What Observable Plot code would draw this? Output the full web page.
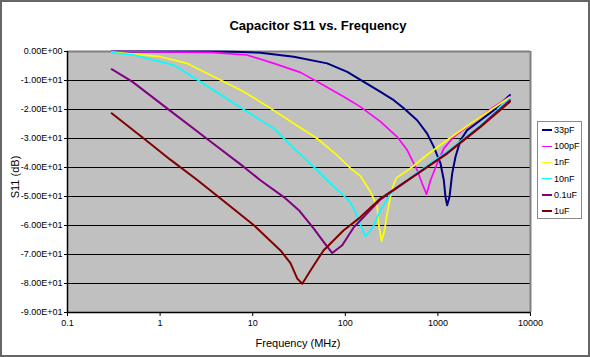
<!DOCTYPE html>
<html>
<head>
<meta charset="utf-8">
<script src="https://cdn.jsdelivr.net/npm/d3@7"></script>
<script src="https://cdn.jsdelivr.net/npm/@observablehq/plot@0.6"></script>
<style>
  body { margin: 0; background: #fff; }
  #chart { position: relative; width: 590px; height: 357px; overflow: hidden; font-family: "Liberation Sans", Arial, sans-serif; background: #fff; }
  #chart svg { position: absolute; left: 0; top: 0; }
  .outer { position: absolute; left: 0; top: 0; width: 590px; height: 357px; box-sizing: border-box; border: 2px solid #666; pointer-events: none; }
  .title { position: absolute; top: 18px; left: 318px; transform: translateX(-50%); font-size: 13px; font-weight: bold; white-space: nowrap; color: #000; }
  .xtitle { position: absolute; top: 337px; left: 298px; transform: translateX(-50%); font-size: 11px; white-space: nowrap; color: #000; }
  .ytitle { position: absolute; left: 15px; top: 177px; transform: translate(-50%, -50%) rotate(-90deg); font-size: 11px; white-space: nowrap; color: #000; }
  .legend { position: absolute; left: 537px; top: 121px; width: 45px; height: 98px; box-sizing: border-box; border: 1px solid #8a8a8a; background: #fff; }
  .entry { position: absolute; left: 0; height: 12px; font-size: 9px; line-height: 12px; white-space: nowrap; }
  .sw { position: absolute; left: 4px; width: 10px; }
  .lbl { position: absolute; left: 16px; top: 0; }
</style>
</head>
<body>
<div id="chart"></div>
<script>
// ---- data (frequency in MHz, S11 in dB) ----
const seriesNames = ["33pF", "100pF", "1nF", "10nF", "0.1uF", "1uF"];
const seriesColors = ["#000080", "#FF00FF", "#FFFF00", "#00FFFF", "#800080", "#800000"];

const f33pF  = [0.3, 3.5, 6.2, 12.1, 27.8, 63.7, 105, 146, 240, 334, 428, 597, 766, 903, 1067, 1159, 1208, 1259, 1334, 1426, 1549, 1754, 2070, 2884, 4018, 6000];
const db33pF = [0, 0, -0.1, -0.4, -1.8, -4.1, -7.0, -9.8, -13.9, -16.8, -19.6, -23.7, -28.3, -32.9, -38.6, -44.4, -50.2, -53.0, -50.2, -42.1, -36.3, -30.6, -27.1, -23.7, -20.2, -15.0];

const f100pF  = [0.3, 3.5, 8.7, 16.9, 32.8, 54, 96.4, 146, 240, 363, 466, 597, 676, 753, 832, 982, 1159, 1486, 2070, 2884, 4018, 6000];
const db100pF = [0, -0.3, -1.2, -4.1, -7.2, -11.0, -15.6, -19.1, -24.2, -29.4, -34.0, -40.9, -45.5, -49.2, -44.4, -38.6, -33.4, -29.4, -26.0, -22.5, -19.1, -15.6];

const f1nF  = [0.3, 1.01, 1.96, 4.49, 8.02, 15.6, 27.8, 49.7, 81.7, 114, 146, 187, 221, 230, 246, 265, 283, 307, 334, 360, 519, 766, 1259, 2884, 6000];
const db1nF = [-0.2, -1.8, -4.1, -9.8, -13.9, -19.6, -24.8, -30.0, -35.8, -40.3, -43.0, -48.4, -53.6, -59.9, -65.4, -61.7, -55.9, -50.2, -45.5, -43.5, -40.0, -35.6, -30.5, -22.5, -15.8];

const f10nF  = [0.3, 0.52, 1.41, 2.73, 4.88, 8.73, 16.9, 29.0, 45.7, 69.2, 109, 129, 146, 165, 195, 240, 308, 363, 1259, 2884, 6000];
const db10nF = [-0.4, -1.2, -4.7, -10.4, -15.6, -20.8, -26.5, -34.0, -39.8, -45.5, -51.3, -55.3, -59.9, -63.7, -61.1, -54.7, -49.0, -46.7, -34.5, -25.5, -16.2];

const f01uF  = [0.3, 0.5, 1.19, 3.36, 8.02, 12.1, 21.7, 31.5, 45.7, 58.6, 72.3, 92.7, 124, 146, 240, 1259, 2884, 6000];
const db01uF = [-6.1, -10.4, -19.6, -30.6, -39.8, -44.4, -50.2, -54.7, -61.1, -65.7, -69.5, -66.8, -60.5, -58.2, -51.0, -35.0, -25.8, -16.8];

const f1uF  = [0.3, 0.667, 1.29, 2.52, 4.49, 10.3, 19.95, 25.6, 30.3, 34.3, 42.1, 58.1, 95.5, 146, 240, 1259, 2884, 6000];
const db1uF = [-21.3, -30.0, -37.3, -44.3, -50.7, -59.9, -68.6, -73.0, -78.3, -80.1, -75.5, -68.6, -61.7, -57.1, -50.7, -35.2, -26.0, -17.3];

const xTicks = [0.1, 1, 10, 100, 1000, 10000];
const xTickLabels = ["0.1", "1", "10", "100", "1000", "10000"];
const yTicks = [0, -10, -20, -30, -40, -50, -60, -70, -80, -90];
const yTickLabels = ["0.00E+00", "-1.00E+01", "-2.00E+01", "-3.00E+01", "-4.00E+01", "-5.00E+01", "-6.00E+01", "-7.00E+01", "-8.00E+01", "-9.00E+01"];
const gridY = [-10, -20, -30, -40, -50, -60, -70, -80];

// ---- build table ----
const freqs = [f33pF, f100pF, f1nF, f10nF, f01uF, f1uF];
const dbs = [db33pF, db100pF, db1nF, db10nF, db01uF, db1uF];
const lineWidths = [2, 1.7, 1.7, 1.7, 2, 2];
const swatchWidths = [2.5, 1, 1, 1, 2.5, 2.5];

const seriesData = seriesNames.map((name, i) =>
  freqs[i].map((f, j) => ({series: name, f, db: dbs[i][j]}))
);

const chart = Plot.plot({
  width: 590,
  height: 357,
  marginLeft: 67,
  marginRight: 60,
  marginTop: 51,
  marginBottom: 45,
  style: {background: "transparent", fontFamily: "'Liberation Sans', Arial, sans-serif", fontSize: "9px", color: "#000", overflow: "visible"},
  x: {type: "log", domain: [0.1, 10000], ticks: xTicks, tickFormat: d => xTickLabels[xTicks.indexOf(d)], tickSize: 4, tickPadding: 3, label: null},
  y: {domain: [-90, 0], ticks: yTicks, tickFormat: d => yTickLabels[yTicks.indexOf(d)], tickSize: 3, tickPadding: 2, label: null},
  marks: [
    Plot.frame({fill: "#C0C0C0", stroke: "none"}),
    Plot.ruleY(gridY, {stroke: "#000", strokeWidth: 1}),
    Plot.ruleY([0], {stroke: "#808080", strokeWidth: 2}),
    Plot.ruleX([10000], {stroke: "#808080", strokeWidth: 2}),
    ...seriesData.map((d, i) => Plot.line(d, {x: "f", y: "db", stroke: seriesColors[i], strokeWidth: lineWidths[i]})),
    Plot.ruleX([0.1], {stroke: "#000", strokeWidth: 1.5}),
    Plot.ruleY([-90], {stroke: "#000", strokeWidth: 1.5})
  ]
});

const root = document.getElementById("chart");
root.appendChild(chart);

const add = (cls, text) => { const el = document.createElement("div"); el.className = cls; if (text) el.textContent = text; root.appendChild(el); return el; };
add("title", "Capacitor S11 vs. Frequency");
add("xtitle", "Frequency (MHz)");
add("ytitle", "S11 (dB)");

const legend = add("legend");
seriesNames.forEach((name, i) => {
  const e = document.createElement("div");
  e.className = "entry";
  e.style.top = (2 + i * 16.2) + "px";
  const sw = document.createElement("div");
  sw.className = "sw";
  sw.style.height = swatchWidths[i] + "px";
  sw.style.top = (6 - swatchWidths[i] / 2) + "px";
  sw.style.background = seriesColors[i];
  const lb = document.createElement("div");
  lb.className = "lbl";
  lb.textContent = name;
  e.appendChild(sw);
  e.appendChild(lb);
  legend.appendChild(e);
});
add("outer");
</script>
</body>
</html>
